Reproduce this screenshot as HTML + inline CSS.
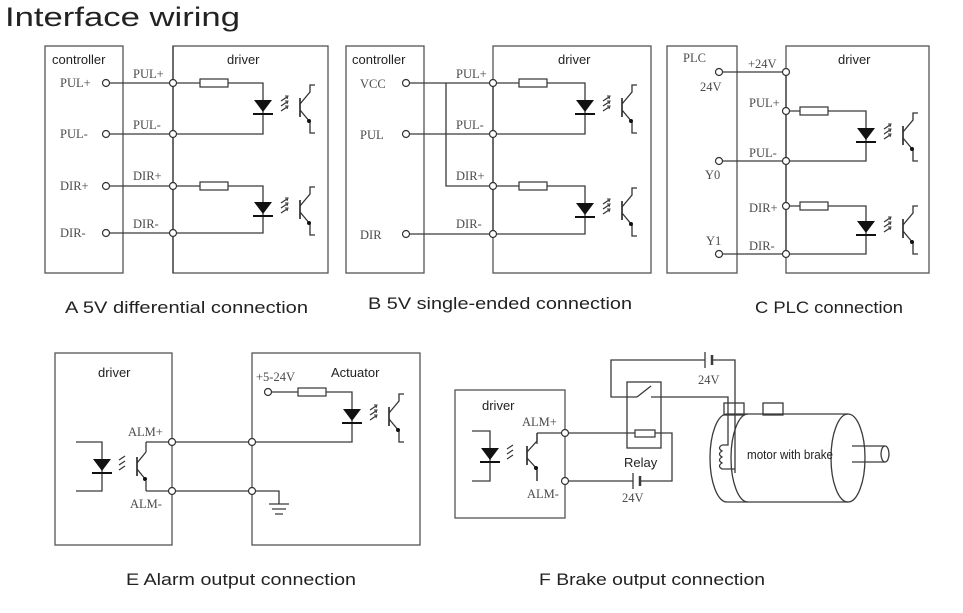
<!DOCTYPE html>
<html><head><meta charset="utf-8"><style>
html,body{margin:0;padding:0;background:#fff;}
svg{display:block;}
.w{stroke:#3a3a3a;stroke-width:1.3;fill:none;}
.b{stroke:#555;stroke-width:1.3;fill:none;}
.lab{font-family:"Liberation Serif",serif;font-size:12.5px;fill:#4a4a4a;}
.hd{font-family:"Liberation Sans",sans-serif;font-size:13px;fill:#222;}
.cap{font-family:"Liberation Sans",sans-serif;font-size:17px;fill:#222;}
</style></head><body>
<svg width="963" height="613" viewBox="0 0 963 613" xmlns="http://www.w3.org/2000/svg">
<defs>
<g id="opto">
 <polygon points="-9,-7 9,-7 0,5" fill="#111"/>
 <line x1="-10" y1="7" x2="10" y2="7" stroke="#111" stroke-width="2"/>
 <path d="M18,-6 l6,-4 M18,-1 l6,-4 M18,4 l6,-4" stroke="#333" stroke-width="1.2" fill="none"/>
 <path d="M22,-11 l3,0 l-1,3 M22,-6 l3,0 l-1,3 M22,-1 l3,0 l-1,3" stroke="#333" stroke-width="1" fill="none"/>
 <line x1="37" y1="-9" x2="37" y2="10" stroke="#222" stroke-width="1.6"/>
 <path d="M37,-3 L47,-15 L47,-22 L52,-22 M37,3 L47,15 L47,26 L52,26" stroke="#333" stroke-width="1.3" fill="none"/>
 <circle cx="46" cy="14" r="2" fill="#111"/>
</g>
<g id="res"><rect x="0" y="-4" width="28" height="8" fill="#fff" stroke="#333" stroke-width="1.2"/></g>
</defs>

<text x="5" y="26" font-family="Liberation Sans, sans-serif" font-size="27" fill="#222" textLength="235" lengthAdjust="spacingAndGlyphs">Interface wiring</text>

<!-- Panel A -->
<rect class="b" x="45" y="46" width="78" height="227"/>
<rect class="b" x="173" y="46" width="155" height="227"/>
<text class="hd" x="52" y="64">controller</text>
<text class="hd" x="227" y="64">driver</text>
<g class="w">
 <line x1="173" y1="46" x2="173" y2="273"/>
 <line x1="106" y1="83" x2="173" y2="83"/><line x1="106" y1="134" x2="173" y2="134"/>
 <line x1="106" y1="186" x2="173" y2="186"/><line x1="106" y1="233" x2="173" y2="233"/>
 <path d="M173,83 H263 V134 H173"/><path d="M173,186 H263 V233 H173"/>
</g>
<use href="#res" x="200" y="83"/><use href="#res" x="200" y="186"/>
<use href="#opto" x="263" y="107"/><use href="#opto" x="263" y="209"/>
<g fill="#fff" stroke="#333" stroke-width="1.2">
 <circle cx="106" cy="83" r="3.5"/><circle cx="106" cy="134" r="3.5"/><circle cx="106" cy="186" r="3.5"/><circle cx="106" cy="233" r="3.5"/>
 <circle cx="173" cy="83" r="3.5"/><circle cx="173" cy="134" r="3.5"/><circle cx="173" cy="186" r="3.5"/><circle cx="173" cy="233" r="3.5"/>
</g>
<text class="lab" x="60" y="87">PUL+</text><text class="lab" x="60" y="138">PUL-</text>
<text class="lab" x="60" y="190">DIR+</text><text class="lab" x="60" y="237">DIR-</text>
<text class="lab" x="133" y="78">PUL+</text><text class="lab" x="133" y="129">PUL-</text>
<text class="lab" x="133" y="180">DIR+</text><text class="lab" x="133" y="228">DIR-</text>

<!-- Panel B -->
<rect class="b" x="346" y="46" width="78" height="227"/>
<rect class="b" x="493" y="46" width="158" height="227"/>
<text class="hd" x="352" y="64">controller</text>
<text class="hd" x="558" y="64">driver</text>
<g class="w">
 <line x1="406" y1="83" x2="493" y2="83"/><line x1="406" y1="134" x2="493" y2="134"/>
 <line x1="406" y1="234" x2="493" y2="234"/>
 <path d="M446,83 V186 H493"/>
 <line x1="493" y1="83" x2="493" y2="234"/>
 <path d="M493,83 H585 V134 H493"/><path d="M493,186 H585 V234 H493"/>
</g>
<use href="#res" x="519" y="83"/><use href="#res" x="519" y="186"/>
<use href="#opto" x="585" y="107"/><use href="#opto" x="585" y="210"/>
<g fill="#fff" stroke="#333" stroke-width="1.2">
 <circle cx="406" cy="83" r="3.5"/><circle cx="406" cy="134" r="3.5"/><circle cx="406" cy="234" r="3.5"/>
 <circle cx="493" cy="83" r="3.5"/><circle cx="493" cy="134" r="3.5"/><circle cx="493" cy="186" r="3.5"/><circle cx="493" cy="234" r="3.5"/>
</g>
<text class="lab" x="360" y="88">VCC</text><text class="lab" x="360" y="139">PUL</text><text class="lab" x="360" y="239">DIR</text>
<text class="lab" x="456" y="78">PUL+</text><text class="lab" x="456" y="129">PUL-</text>
<text class="lab" x="456" y="180">DIR+</text><text class="lab" x="456" y="228">DIR-</text>

<!-- Panel C -->
<rect class="b" x="667" y="46" width="70" height="227"/>
<rect class="b" x="786" y="46" width="143" height="227"/>
<text class="lab" x="683" y="62">PLC</text>
<text class="hd" x="838" y="64">driver</text>
<g class="w">
 <line x1="719" y1="72" x2="786" y2="72"/><line x1="719" y1="161" x2="786" y2="161"/><line x1="719" y1="254" x2="786" y2="254"/>
 <line x1="786" y1="72" x2="786" y2="254"/>
 <path d="M786,111 H866 V161 H786"/><path d="M786,206 H866 V254 H786"/>
</g>
<use href="#res" x="800" y="111"/><use href="#res" x="800" y="206"/>
<use href="#opto" x="866" y="135"/><use href="#opto" x="866" y="228"/>
<g fill="#fff" stroke="#333" stroke-width="1.2">
 <circle cx="719" cy="72" r="3.5"/><circle cx="719" cy="161" r="3.5"/><circle cx="719" cy="254" r="3.5"/>
 <circle cx="786" cy="72" r="3.5"/><circle cx="786" cy="111" r="3.5"/><circle cx="786" cy="161" r="3.5"/><circle cx="786" cy="206" r="3.5"/><circle cx="786" cy="254" r="3.5"/>
</g>
<text class="lab" x="700" y="91">24V</text><text class="lab" x="705" y="179">Y0</text><text class="lab" x="706" y="245">Y1</text>
<text class="lab" x="748" y="68">+24V</text><text class="lab" x="749" y="107">PUL+</text><text class="lab" x="749" y="157">PUL-</text>
<text class="lab" x="749" y="212">DIR+</text><text class="lab" x="749" y="250">DIR-</text>

<text class="cap" x="65" y="313" textLength="243" lengthAdjust="spacingAndGlyphs">A 5V differential connection</text>
<text class="cap" x="368" y="309" textLength="264" lengthAdjust="spacingAndGlyphs">B 5V single-ended connection</text>
<text class="cap" x="755" y="313" textLength="148" lengthAdjust="spacingAndGlyphs">C PLC connection</text>

<!-- Panel E -->
<rect class="b" x="55" y="353" width="117" height="192"/>
<rect class="b" x="252" y="353" width="168" height="192"/>
<text class="hd" x="98" y="377">driver</text>
<text class="hd" x="331" y="377">Actuator</text>
<g class="w">
 <path d="M76,442 H102 V491 H76"/>
 <path d="M146,442 H252"/><path d="M146,491 H252"/>
 <line x1="146" y1="442" x2="146" y2="452"/><line x1="146" y1="491" x2="146" y2="481"/>
 <path d="M252,442 H352 V392 H268"/>
 <path d="M252,491 H279 V504"/>
 <path d="M269,504 H289 M272,509 H286 M275,514 H283"/>
</g>
<g transform="translate(102,466)">
 <polygon points="-9,-7 9,-7 0,5" fill="#111"/>
 <line x1="-10" y1="7" x2="10" y2="7" stroke="#111" stroke-width="2"/>
 <path d="M17,-6 l6,-4 M17,-1 l6,-4 M17,4 l6,-4" stroke="#333" stroke-width="1.2" fill="none"/>
 <line x1="35" y1="-9" x2="35" y2="10" stroke="#222" stroke-width="1.6"/>
 <path d="M35,-3 L44,-14 M35,3 L44,14" stroke="#333" stroke-width="1.3" fill="none"/>
 <circle cx="43" cy="13" r="2" fill="#111"/>
</g>
<use href="#res" x="298" y="392"/>
<use href="#opto" x="352" y="416"/>
<g fill="#fff" stroke="#333" stroke-width="1.2">
 <circle cx="172" cy="442" r="3.5"/><circle cx="172" cy="491" r="3.5"/>
 <circle cx="252" cy="442" r="3.5"/><circle cx="252" cy="491" r="3.5"/>
 <circle cx="268" cy="392" r="3.5"/>
</g>
<text class="lab" x="128" y="436">ALM+</text><text class="lab" x="130" y="508">ALM-</text>
<text class="lab" x="256" y="381">+5-24V</text>

<!-- Panel F -->
<rect class="b" x="455" y="390" width="110" height="128"/>
<text class="hd" x="482" y="410">driver</text>
<g class="w">
 <path d="M472,431 H490 V481 H472"/>
 <path d="M537,433 H672 V481 H640"/><path d="M633,481 H565"/>
 <line x1="537" y1="433" x2="537" y2="444"/><line x1="537" y1="481" x2="537" y2="470"/>
 <line x1="633" y1="473" x2="633" y2="489"/><line x1="640" y1="476" x2="640" y2="486" stroke-width="2.5"/>
 <path d="M637,397 H611 V360 H705"/><path d="M712,360 H735 V473"/>
 <line x1="705" y1="352" x2="705" y2="368"/><line x1="712" y1="355" x2="712" y2="365" stroke-width="2.5"/>
 <path d="M637,397 L651,386"/><path d="M651,397 H728 V445 H722"/>
 <path d="M722,445 q-5,3 0,6 q-5,3 0,6 q-5,3 0,6 q-5,3 0,6 H735"/>
 <rect x="627" y="382" width="34" height="66"/>
</g>
<rect x="635" y="430" width="20" height="7" fill="#fff" stroke="#333" stroke-width="1.2"/>
<g transform="translate(490,455)">
 <polygon points="-9,-7 9,-7 0,5" fill="#111"/>
 <line x1="-10" y1="7" x2="10" y2="7" stroke="#111" stroke-width="2"/>
 <path d="M17,-6 l6,-4 M17,-1 l6,-4 M17,4 l6,-4" stroke="#333" stroke-width="1.2" fill="none"/>
 <line x1="37" y1="-9" x2="37" y2="10" stroke="#222" stroke-width="1.6"/>
 <path d="M37,-3 L47,-14 V-22 M37,3 L47,14 V26" stroke="#333" stroke-width="1.3" fill="none"/>
 <circle cx="46" cy="13" r="2" fill="#111"/>
</g>
<g fill="#fff" stroke="#333" stroke-width="1.2">
 <circle cx="565" cy="433" r="3.5"/><circle cx="565" cy="481" r="3.5"/>
</g>
<text class="lab" x="522" y="426">ALM+</text><text class="lab" x="527" y="498">ALM-</text>
<text class="lab" x="698" y="384" font-size="11">24V</text>
<text class="lab" x="622" y="502" font-size="11">24V</text>
<text class="hd" x="624" y="467" font-size="14">Relay</text>
<!-- motor -->
<g class="w">
 <rect x="724" y="403" width="20" height="12"/>
 <rect x="763" y="403" width="20" height="12"/>
 <path d="M727,414 H848 M727,502 H848"/>
 <path d="M727,414 A17,44 0 0 0 727,502"/>
 <path d="M748,414 A17,44 0 0 0 748,502"/>
 <ellipse cx="848" cy="458" rx="17" ry="44"/>
 <path d="M852,446 H885 M852,462 H885"/>
 <ellipse cx="885" cy="454" rx="4" ry="8"/>
</g>
<text x="747" y="459" font-family="Liberation Sans, sans-serif" font-size="12.5" fill="#222" textLength="86" lengthAdjust="spacingAndGlyphs">motor with brake</text>

<text class="cap" x="126" y="585" textLength="230" lengthAdjust="spacingAndGlyphs">E Alarm output connection</text>
<text class="cap" x="539" y="585" textLength="226" lengthAdjust="spacingAndGlyphs">F Brake output connection</text>
</svg>
</body></html>
